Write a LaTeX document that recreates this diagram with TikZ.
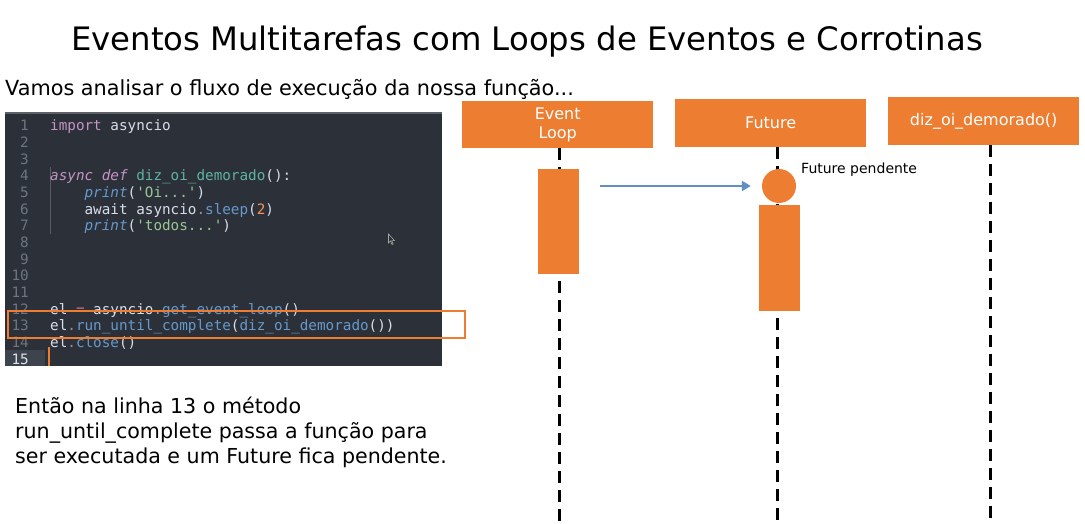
\documentclass[tikz,border=0pt]{standalone}
\usepackage{fontspec}
\setmainfont{DejaVu Sans}
\setmonofont{DejaVu Sans Mono}
\usetikzlibrary{arrows.meta}

% colours
\definecolor{boxorange}{HTML}{ED7D31}
\definecolor{msgblue}{HTML}{5F8FC4}
\definecolor{editorbg}{HTML}{2C3139}
\definecolor{editortop}{HTML}{5C6168}
\definecolor{gutterhl}{HTML}{3E444D}
\definecolor{lineno}{HTML}{6B7682}
\definecolor{codefg}{HTML}{D8DEE9}
\definecolor{codekw}{HTML}{C594C5}
\definecolor{codefn}{HTML}{5FB3A3}
\definecolor{codecall}{HTML}{6699CC}
\definecolor{codestr}{HTML}{99C794}
\definecolor{codenum}{HTML}{F99157}
\definecolor{codeop}{HTML}{E0708A}
\definecolor{codedot}{HTML}{8A93A3}

% syntax helpers
\newcommand\ckw[1]{\textcolor{codekw}{#1}}
\newcommand\cikw[1]{\textcolor{codekw}{\itshape #1}}
\newcommand\cfn[1]{\textcolor{codefn}{#1}}
\newcommand\ccall[1]{\textcolor{codecall}{#1}}
\newcommand\cicall[1]{\textcolor{codecall}{\itshape #1}}
\newcommand\cstr[1]{\textcolor{codestr}{#1}}
\newcommand\cnum[1]{\textcolor{codenum}{#1}}
\newcommand\cop[1]{\textcolor{codeop}{#1}}
\newcommand\cpunct[1]{\textcolor{codedot}{#1}}

\tikzset{
  plain/.style={inner sep=0pt, anchor=base west},
  codeline/.style={inner sep=0pt, anchor=base west, text=codefg,
    font=\ttfamily\fontsize{14.3}{16}\selectfont},
  linenum/.style={inner sep=0pt, anchor=base east, text=lineno,
    font=\ttfamily\fontsize{14.3}{16}\selectfont},
  header/.style={fill=boxorange, text=white, minimum width=191pt,
    inner sep=0pt, align=center, font=\fontsize{16}{19.5}\selectfont},
  activation/.style={fill=boxorange, draw=none},
  lifeline/.style={draw=black, line width=3pt, dash pattern=on 12pt off 7pt},
  message/.style={draw=msgblue, line width=2.5pt,
    -{Triangle[length=9pt,width=10pt]}},
  explain/.style={inner sep=0pt, anchor=base west,
    font=\fontsize{20.6}{25}\selectfont},
}

\begin{document}
\begin{tikzpicture}[x=1pt,y=-1pt]
\useasboundingbox (0,0) rectangle (1085,524);
\fill[white] (0,0) rectangle (1085,524);

% headings
\node[plain, font=\fontsize{32.3}{36}\selectfont] (title) at (71,51)
  {Eventos Multitarefas com Loops de Eventos e Corrotinas};
\node[plain, font=\fontsize{20.8}{24}\selectfont] (intro) at (5,96)
  {Vamos analisar o fluxo de execução da nossa função...};

% editor panel
\fill[editorbg] (5,113) rectangle (442,366);
\fill[editortop] (5,112) rectangle (442,114.5);
\fill[gutterhl] (5,349.5) rectangle (45,366);
\draw[boxorange, line width=1.2pt] (49,347) -- (49,366);
\draw[codedot!45!editorbg, line width=0.8pt] (50.5,167) -- (50.5,234);

% line numbers
\foreach \n in {1,...,14}{
  \node[linenum] (ln\n) at (29,{131+(\n-1)*16.65}) {\n};
}
\node[linenum, text=codefg!85] (ln15) at (29,{131+14*16.65}) {15};

% source code
\node[codeline] (c1) at (50,131) {\ckw{import} asyncio};
\node[codeline] (c4) at (50,{131+3*16.65})
  {\cikw{async} \cikw{def} \cfn{diz\_oi\_demorado}():};
\node[codeline] (c5) at (50,{131+4*16.65})
  {\hphantom{xxxx}\cicall{print}(\cstr{'Oi...'})};
\node[codeline] (c6) at (50,{131+5*16.65})
  {\hphantom{xxxx}await asyncio\cpunct{.}\ccall{sleep}(\cnum{2})};
\node[codeline] (c7) at (50,{131+6*16.65})
  {\hphantom{xxxx}\cicall{print}(\cstr{'todos...'})};
\node[codeline] (c12) at (50,{131+11*16.65})
  {el \cop{=} asyncio\cpunct{.}\ccall{get\_event\_loop}()};
\node[codeline] (c13) at (50,{131+12*16.65})
  {el\cpunct{.}\ccall{run\_until\_complete}(\ccall{diz\_oi\_demorado}())};
\node[codeline] (c14) at (50,{131+13*16.65})
  {el\cpunct{.}\ccall{close}()};

% mouse pointer
\draw[gray!70, fill=editorbg, line width=0.6pt]
  (388.5,234) -- (388.5,243) -- (390.5,241) -- (392,244.5) -- (393.2,244)
  -- (391.8,240.6) -- (394.5,240.6) -- cycle;

% highlighted line
\node[draw=boxorange, line width=2pt, minimum width=457pt, minimum height=27pt,
  inner sep=0pt, anchor=north west] (hl) at (7,310) {};

% explanation
\node[explain] (ex1) at (15,413) {Então na linha 13 o método};
\node[explain] (ex2) at (15,438) {run\_until\_complete passa a função para};
\node[explain] (ex3) at (15,463) {ser executada e um Future fica pendente.};

% participants
\node[header, minimum height=47pt, anchor=north west] (loop) at (462,101)
  {Event\\Loop};
\node[header, minimum height=48pt, anchor=north west] (future) at (675,99)
  {Future};
\node[header, minimum height=48pt, anchor=north west] (coro) at (888,97)
  {diz\_oi\_demorado()};

% lifelines
\coordinate (loopend) at (559,524);
\coordinate (futend) at (777,524);
\coordinate (coroend) at (990,524);
\draw[lifeline] (loop.south -| loopend) -- (loopend);
\draw[lifeline] (future.south -| futend) -- (futend);
\draw[lifeline] (coro.south -| coroend) -- (coroend);

% activations
\node[activation, minimum width=41pt, minimum height=105pt, inner sep=0pt,
  anchor=north west] (loopact) at (538,169) {};
\node[activation, minimum width=41pt, minimum height=106pt, inner sep=0pt,
  anchor=north west] (futact) at (759,205) {};
\node[circle, fill=boxorange, minimum size=34pt, inner sep=0pt] (pending)
  at (779,186) {};
\node[plain, anchor=base west, font=\fontsize{14}{16}\selectfont] (pendlabel)
  at (801,174) {Future pendente};

% call into the future
\coordinate (msgstart) at (600,186);
\draw[message] (msgstart) -- ([xshift=-11pt]pending.west);
\end{tikzpicture}
\end{document}
